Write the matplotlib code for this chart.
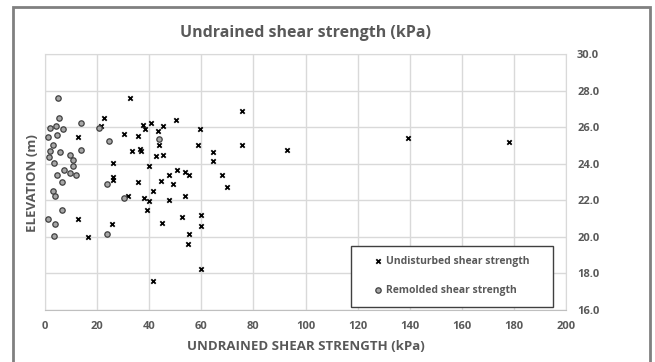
import matplotlib.pyplot as plt
from matplotlib.patches import Rectangle

plt.rcParams['font.family'] = ['Open Sans', 'DejaVu Sans']

# undisturbed (kPa, m)
und_su = [22.8, 21.5, 12.7, 26.0, 26.0, 26.0, 12.7, 25.8, 16.4, 32.6,
          37.7, 38.4, 40.6, 43.5, 45.4, 50.3, 59.5, 30.3, 35.8, 43.8,
          58.6, 64.6, 64.6, 33.5, 36.5, 36.9, 42.6, 45.4, 40.0, 50.6,
          53.7, 55.4, 47.7, 35.8, 44.5, 49.3, 41.6, 31.9, 38.0, 40.0,
          47.7, 53.7, 39.0, 52.5, 59.8, 59.8, 44.8, 55.4, 54.8, 59.8,
          41.6, 75.7, 75.7, 92.8, 67.8, 70.0, 139.2, 178.1]
und_el = [26.48, 26.08, 25.44, 24.04, 23.30, 23.12, 20.99, 20.71, 20.00, 27.58,
          26.10, 25.92, 26.23, 25.81, 26.04, 26.41, 25.92, 25.64, 25.50, 25.04,
          25.04, 24.64, 24.16, 24.71, 24.82, 24.67, 24.40, 24.49, 23.85, 23.63,
          23.52, 23.40, 23.36, 22.98, 23.08, 22.89, 22.52, 22.25, 22.15, 21.97,
          22.03, 22.26, 21.48, 21.08, 21.21, 20.60, 20.75, 20.15, 19.60, 18.23,
          17.59, 26.90, 25.00, 24.77, 23.40, 22.72, 25.39, 25.21]

# remolded (kPa, m)
rem_su = [5.0, 5.4, 1.9, 4.2, 6.9, 4.6, 1.2, 13.7, 20.7, 24.5,
          3.0, 1.9, 1.4, 5.8, 13.8, 9.6, 10.9, 10.9, 3.5, 7.4,
          9.6, 11.9, 4.7, 6.4, 23.9, 3.2, 3.8, 6.4, 1.3, 3.8,
          3.6, 23.7, 30.3, 43.9]
rem_el = [27.58, 26.48, 25.96, 26.04, 25.90, 25.59, 25.44, 26.23, 25.93, 25.24,
          25.02, 24.70, 24.37, 24.64, 24.77, 24.49, 24.18, 23.89, 24.04, 23.63,
          23.49, 23.41, 23.36, 23.00, 22.89, 22.52, 22.26, 21.46, 20.99, 20.71,
          20.02, 20.15, 22.14, 25.37]

x_ticks = list(range(0, 201, 20))
y_ticks = [16, 18, 20, 22, 24, 26, 28, 30]

txt = '#595959'
grid = '#D9D9D9'

fig = plt.figure(figsize=(6.55, 3.62), dpi=100)
ax = fig.add_axes([45 / 655, 1 - 310 / 362, 521 / 655, 256 / 362])

ax.scatter(und_su, und_el, marker='x', s=10, color='black', linewidths=1.3,
           label='Undisturbed shear strength', zorder=3)
ax.scatter(rem_su, rem_el, marker='o', s=15, facecolor='#A6A6A6',
           edgecolor='#404040', linewidths=0.9,
           label='Remolded shear strength', zorder=3)

ax.set_xlim(0, 200)
ax.set_ylim(16, 30)
ax.set_xticks(x_ticks)
ax.set_yticks(y_ticks)
ax.set_yticklabels([f'{v:.1f}' for v in y_ticks])
ax.yaxis.tick_right()
ax.tick_params(length=0, labelsize=8, labelcolor=txt, pad=8)
for lab in ax.get_xticklabels() + ax.get_yticklabels():
    lab.set_fontweight('bold')
ax.grid(True, color=grid, linewidth=1)
ax.set_axisbelow(True)
for s in ax.spines.values():
    s.set_color(grid)
ax.spines['bottom'].set_color('#BFBFBF')

ax.set_xlabel('UNDRAINED SHEAR STRENGTH (kPa)', fontsize=9.5,
              fontweight='bold', color=txt, labelpad=6)
fig.text(33 / 655, 1 - 183 / 362, 'ELEVATION (m)', rotation=90, fontsize=9.5,
         fontweight='bold', color=txt, ha='center', va='center')

fig.text(305 / 655, 1 - 33 / 362, 'Undrained shear strength (kPa)',
         fontsize=11.5, fontweight='bold', color=txt, ha='center', va='center')

# legend: text only, box drawn separately to match the wide frame
box = Rectangle((351 / 655, 1 - 307 / 362), 202 / 655, 61 / 362,
                transform=fig.transFigure, facecolor='white',
                edgecolor='#404040', linewidth=1.0, zorder=4, clip_on=False)
ax.add_patch(box)
leg = ax.legend(loc='upper left', bbox_to_anchor=(373 / 655, 1 - 256 / 362),
                bbox_transform=fig.transFigure, frameon=False,
                fontsize=7.5, labelspacing=1.75, handletextpad=0.2,
                borderpad=0, borderaxespad=0, handlelength=1.0)
leg.set_zorder(5)
for t in leg.get_texts():
    t.set_color(txt)
    t.set_fontweight('bold')

fig.patches.append(Rectangle((13 / 655, -0.05), 637 / 655, 1.05 - 7 / 362,
                             transform=fig.transFigure, fill=False,
                             edgecolor='#808080', linewidth=2))

fig.savefig('out.png', dpi=100)
